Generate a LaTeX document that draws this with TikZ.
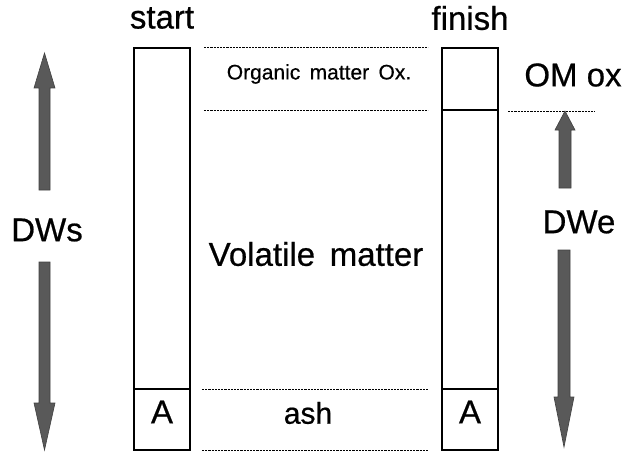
\documentclass[tikz,border=0pt]{standalone}
\usepackage{fontspec}
\setmainfont{Liberation Sans}[FakeBold=0.6]
\begin{document}
\begin{tikzpicture}[x=1pt,y=-1pt,
  lbl/.style={inner sep=0pt, font=\fontsize{33}{36}\selectfont},
  small/.style={inner sep=0pt, font=\fontsize{21}{24}\selectfont},
  col/.style={draw=black, line width=1.2pt},
  sep/.style={draw=black, dash pattern=on 2.2pt off 1pt, line width=1pt},
  fat/.style={fill=black!65, draw=black!75, line width=0.6pt}]
\useasboundingbox (0,0) rectangle (632,452);
% columns
\draw[col] (134,48) rectangle (190,450);
\draw[col] (134,389) -- (190,389);
\draw[col] (442,48) rectangle (498,450);
\draw[col] (442,110) -- (498,110);
\draw[col] (442,389) -- (498,389);
% headers
\node[lbl] (start) at (162,18) {start};
\node[lbl] (finish) at (470,18) {finish};
% separators
\coordinate (s1a) at (204,48);  \coordinate (s1b) at (428,48);
\coordinate (s2a) at (204,110); \coordinate (s2b) at (428,110);
\coordinate (s3a) at (202,389); \coordinate (s3b) at (428,389);
\coordinate (s4a) at (202,450); \coordinate (s4b) at (428,450);
\coordinate (s5a) at (508,111); \coordinate (s5b) at (595,111);
\draw[sep] (s1a) -- (s1b);
\draw[sep] (s2a) -- (s2b);
\draw[sep] (s3a) -- (s3b);
\draw[sep] (s4a) -- (s4b);
\draw[sep] (s5a) -- (s5b);
% labels
\node[small] (om) at (319,74) {Organic\, matter\, Ox.};
\node[inner sep=0pt, font=\fontsize{33}{36}\selectfont] (omox) at (573,75) {OM ox};
\node[lbl] (vm) at (316,254) {Volatile\, matter};
\node[inner sep=0pt, font=\fontsize{30}{34}\selectfont] (ash) at (308,413) {ash};
\node[lbl] (a1) at (162,412) {A};
\node[lbl] (a2) at (470,412) {A};
\node[lbl] (dws) at (47,230) {DWs};
\node[lbl] (dwe) at (579,222) {DWe};
% fat arrows
\draw[fat] (39,190) -- (39,88) -- (34,88) -- (44.5,53) -- (55,88) -- (50,88) -- (50,190) -- cycle;
\draw[fat] (39,262) -- (50,262) -- (50,403) -- (55,403) -- (44.5,450) -- (34,403) -- (39,403) -- cycle;
\draw[fat] (559,188) -- (559,130) -- (555,130) -- (565,111) -- (575,130) -- (571,130) -- (571,188) -- cycle;
\draw[fat] (558,250) -- (570,250) -- (570,397) -- (574,397) -- (564,447) -- (554,397) -- (558,397) -- cycle;
\end{tikzpicture}
\end{document}
